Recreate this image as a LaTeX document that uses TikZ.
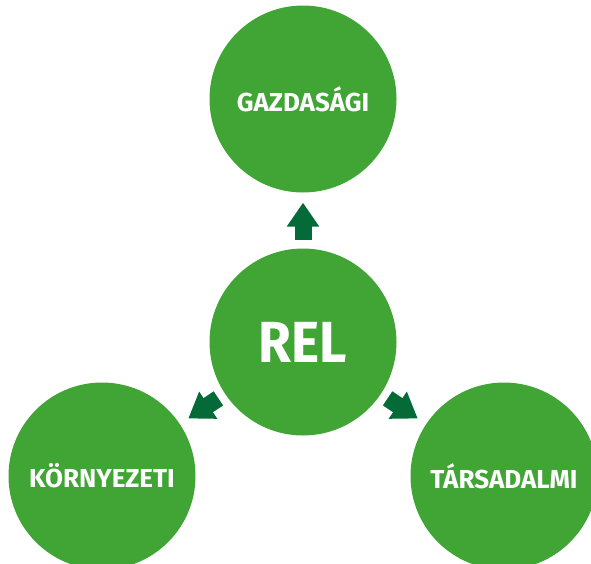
\documentclass[tikz,border=0pt]{standalone}
\usepackage{fontspec}
\newfontfamily\labelfont{Fira Sans}
\newfontfamily\hubfont{Fira Sans}[FakeStretch=0.92]
\usetikzlibrary{arrows.meta}
\definecolor{leafgreen}{HTML}{40A535}
\definecolor{darkgreen}{HTML}{036A38}

\begin{document}
\begin{tikzpicture}[x=1pt, y=-1pt,
    pillar/.style={circle, fill=leafgreen, minimum size=187pt, inner sep=0pt,
      text=white, font=\labelfont\bfseries\fontsize{26}{26}\selectfont},
    push/.style={darkgreen, line width=17pt,
      -{Triangle[length=24pt, width=31pt]}, shorten <=8pt, shorten >=10pt}]
    \useasboundingbox (0,0) rectangle (591,563);

    \node[pillar] (gaz) at (303,99) {GAZDASÁGI};
    \node[pillar, font=\hubfont\bfseries\fontsize{58}{58}\selectfont] (rel) at (303,342) {REL};
    \node[pillar] (korny) at (102,476) {KÖRNYEZETI};
    \node[pillar] (tars) at (504,476) {TÁRSADALMI};

    \draw[push] (rel) -- (gaz);
    \draw[push] (rel) -- (korny);
    \draw[push] (rel) -- (tars);
\end{tikzpicture}
\end{document}
